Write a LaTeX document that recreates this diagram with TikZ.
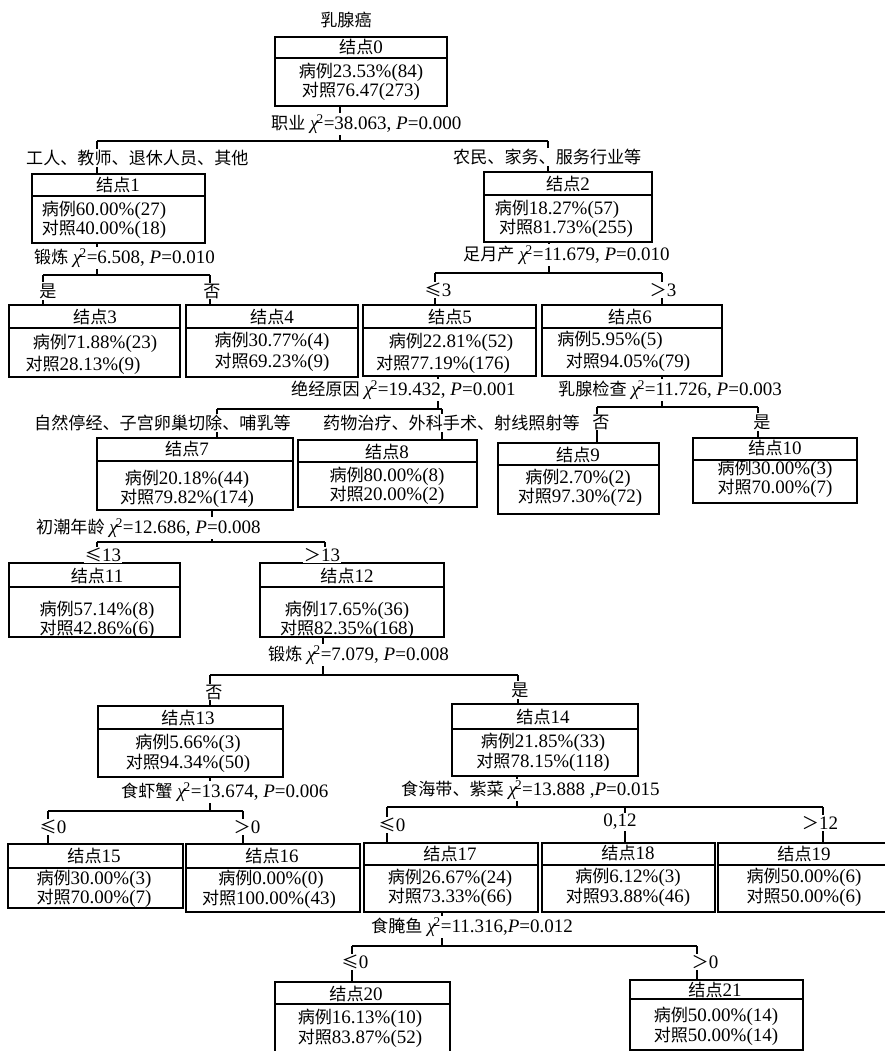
\documentclass[tikz,border=0pt]{standalone}
\usepackage{fontspec}
\setmainfont{Liberation Serif}
\newfontfamily\cjk[Scale=0.9]{Noto Sans CJK SC}
\newcommand\C[1]{{\cjk #1}}
\newcommand\chisq{\textit{χ}\kern-0.12em\textsuperscript{2}}
\tikzset{
  box/.style={draw, line width=1.8pt, inner sep=0pt, outer sep=0pt},
  conn/.style={line width=1.6pt},
  txt/.style={inner sep=0pt, font=\fontsize{19}{21}\selectfont},
  lbl/.style={inner sep=1pt, fill=white, font=\fontsize{19}{21}\selectfont},
}
\newcommand\tbox[6]{%
  \node[box, minimum width={(#4-#2)*1pt}, minimum height={(#5-#3)*1pt}] (#1) at ({(#2+#4)/2},{(#3+#5)/2}) {};
  \draw[line width=1.8pt] (#2,#6) -- (#4,#6);
}
\newcommand\ttext[4]{\node[txt] (#1) at (#2,#3) {#4};}
\begin{document}
\begin{tikzpicture}[x=1pt,y=-1pt]
\useasboundingbox (0,0) rectangle (885,1051);
\clip (0,0) rectangle (885,1051);
\fill[white] (0,0) rectangle (885,1051);

% ---------- boxes ----------
\tbox{n0}{275}{37}{447}{106}{58}
\ttext{n0h}{361}{47}{\C{结点}0}
\ttext{n0a}{361}{72}{\C{病例}23.53\%(84)}
\ttext{n0b}{361}{91}{\C{对照}76.47(273)}

\tbox{n1}{32}{174}{205}{243}{196}
\ttext{n1h}{118}{185}{\C{结点}1}
\ttext{n1a}{104}{210}{\C{病例}60.00\%(27)}
\ttext{n1b}{104}{229}{\C{对照}40.00\%(18)}

\tbox{n2}{484}{172}{652}{242}{195}
\ttext{n2h}{568}{184}{\C{结点}2}
\ttext{n2a}{557}{209}{\C{病例}18.27\%(57)}
\ttext{n2b}{566}{228}{\C{对照}81.73\%(255)}

\tbox{n3}{9}{305}{180}{377}{328}
\ttext{n3h}{95}{317}{\C{结点}3}
\ttext{n3a}{95}{343}{\C{病例}71.88\%(23)}
\ttext{n3b}{83}{365}{\C{对照}28.13\%(9)}

\tbox{n4}{186}{305}{358}{377}{328}
\ttext{n4h}{272}{317}{\C{结点}4}
\ttext{n4a}{272}{341}{\C{病例}30.77\%(4)}
\ttext{n4b}{272}{362}{\C{对照}69.23\%(9)}

\tbox{n5}{363}{305}{536}{376}{328}
\ttext{n5h}{450}{317}{\C{结点}5}
\ttext{n5a}{451}{342}{\C{病例}22.81\%(52)}
\ttext{n5b}{443}{364}{\C{对照}77.19\%(176)}

\tbox{n6}{542}{305}{722}{376}{328}
\ttext{n6h}{630}{317}{\C{结点}6}
\ttext{n6a}{610}{340}{\C{病例}5.95\%(5)}
\ttext{n6b}{628}{362}{\C{对照}94.05\%(79)}

\tbox{n7}{97}{438}{293}{510}{461}
\ttext{n7h}{187}{449}{\C{结点}7}
\ttext{n7a}{187}{479}{\C{病例}20.18\%(44)}
\ttext{n7b}{187}{498}{\C{对照}79.82\%(174)}

\tbox{n8}{298}{440}{477}{507}{462}
\ttext{n8h}{387}{452}{\C{结点}8}
\ttext{n8a}{387}{476}{\C{病例}80.00\%(8)}
\ttext{n8b}{387}{495}{\C{对照}20.00\%(2)}

\tbox{n9}{498}{443}{659}{514}{465}
\ttext{n9h}{578}{455}{\C{结点}9}
\ttext{n9a}{578}{478}{\C{病例}2.70\%(2)}
\ttext{n9b}{580}{497}{\C{对照}97.30\%(72)}

\tbox{n10}{693}{438}{857}{503}{460}
\ttext{n10h}{775}{448}{\C{结点}10}
\ttext{n10a}{775}{469}{\C{病例}30.00\%(3)}
\ttext{n10b}{775}{488}{\C{对照}70.00\%(7)}

\tbox{n11}{9}{563}{180}{637}{587}
\ttext{n11h}{97}{576}{\C{结点}11}
\ttext{n11a}{97}{610}{\C{病例}57.14\%(8)}
\ttext{n11b}{97}{629}{\C{对照}42.86\%(6)}

\tbox{n12}{260}{563}{444}{637}{587}
\ttext{n12h}{347}{576}{\C{结点}12}
\ttext{n12a}{347}{610}{\C{病例}17.65\%(36)}
\ttext{n12b}{347}{629}{\C{对照}82.35\%(168)}

\tbox{n13}{98}{706}{283}{777}{729}
\ttext{n13h}{188}{718}{\C{结点}13}
\ttext{n13a}{188}{743}{\C{病例}5.66\%(3)}
\ttext{n13b}{188}{763}{\C{对照}94.34\%(50)}

\tbox{n14}{452}{704}{638}{776}{729}
\ttext{n14h}{543}{717}{\C{结点}14}
\ttext{n14a}{543}{742}{\C{病例}21.85\%(33)}
\ttext{n14b}{543}{762}{\C{对照}78.15\%(118)}

\tbox{n15}{8}{844}{183}{908}{868}
\ttext{n15h}{94}{856}{\C{结点}15}
\ttext{n15a}{94}{879}{\C{病例}30.00\%(3)}
\ttext{n15b}{94}{898}{\C{对照}70.00\%(7)}

\tbox{n16}{186}{844}{360}{912}{868}
\ttext{n16h}{272}{856}{\C{结点}16}
\ttext{n16a}{271}{879}{\C{病例}0.00\%(0)}
\ttext{n16b}{269}{899}{\C{对照}100.00\%(43)}

\tbox{n17}{364}{843}{538}{912}{865}
\ttext{n17h}{450}{854}{\C{结点}17}
\ttext{n17a}{450}{878}{\C{病例}26.67\%(24)}
\ttext{n17b}{450}{897}{\C{对照}73.33\%(66)}

\tbox{n18}{542}{843}{715}{912}{865}
\ttext{n18h}{628}{853}{\C{结点}18}
\ttext{n18a}{628}{877}{\C{病例}6.12\%(3)}
\ttext{n18b}{628}{897}{\C{对照}93.88\%(46)}

\tbox{n19}{718}{843}{891}{912}{865}
\ttext{n19h}{804}{854}{\C{结点}19}
\ttext{n19a}{804}{877}{\C{病例}50.00\%(6)}
\ttext{n19b}{804}{897}{\C{对照}50.00\%(6)}

\tbox{n20}{275}{982}{450}{1056}{1004}
\ttext{n20h}{356}{994}{\C{结点}20}
\ttext{n20a}{360}{1018}{\C{病例}16.13\%(10)}
\ttext{n20b}{360}{1038}{\C{对照}83.87\%(52)}

\tbox{n21}{630}{980}{803}{1050}{999}
\ttext{n21h}{715}{990}{\C{结点}21}
\ttext{n21a}{716}{1016}{\C{病例}50.00\%(14)}
\ttext{n21b}{716}{1036}{\C{对照}50.00\%(14)}

% ---------- split coordinates ----------
\coordinate (s0) at (340,141);  \coordinate (s0a) at (97,141);  \coordinate (s0b) at (548,141);
\coordinate (s1) at (97,275);   \coordinate (s1a) at (43,275);  \coordinate (s1b) at (210,275);
\coordinate (s2) at (549,273);  \coordinate (s2a) at (435,273); \coordinate (s2b) at (662,273);
\coordinate (s5) at (438,409);  \coordinate (s5a) at (217,409); \coordinate (s5b) at (442,409);
\coordinate (s6) at (662,407);  \coordinate (s6a) at (597,407); \coordinate (s6b) at (758,407);
\coordinate (s7) at (212,542);  \coordinate (s7a) at (97,542);  \coordinate (s7b) at (325,542);
\coordinate (s12) at (323,675); \coordinate (s12a) at (210,675); \coordinate (s12b) at (518,675);
\coordinate (s13) at (210,811); \coordinate (s13a) at (48,811);  \coordinate (s13b) at (243,811);
\coordinate (s14) at (517,807); \coordinate (s14a) at (387,807); \coordinate (s14b) at (625,807); \coordinate (s14c) at (823,807);
\coordinate (s17) at (442,946); \coordinate (s17a) at (352,946); \coordinate (s17b) at (697,946);

% ---------- connectors ----------
\draw[conn] (n0.south -| s0) -- (s0);  \draw[conn] (s0a) -- (s0b);
\draw[conn] (s0a) -- (s0a |- n1.north); \draw[conn] (s0b) -- (s0b |- n2.north);

\draw[conn] (n1.south -| s1) -- (s1);  \draw[conn] (s1a) -- (s1b);
\draw[conn] (s1a) -- (s1a |- n3.north); \draw[conn] (s1b) -- (s1b |- n4.north);

\draw[conn] (n2.south -| s2) -- (s2);  \draw[conn] (s2a) -- (s2b);
\draw[conn] (s2a) -- (s2a |- n5.north); \draw[conn] (s2b) -- (s2b |- n6.north);

\draw[conn] (n5.south -| s5) -- (s5);  \draw[conn] (s5a) -- (s5b);
\draw[conn] (s5a) -- (s5a |- n7.north); \draw[conn] (s5b) -- (s5b |- n8.north);

\draw[conn] (n6.south -| s6) -- (s6);  \draw[conn] (s6a) -- (s6b);
\draw[conn] (s6a) -- (s6a |- n9.north); \draw[conn] (s6b) -- (s6b |- n10.north);

\draw[conn] (n7.south -| s7) -- (s7);  \draw[conn] (s7a) -- (s7b);
\draw[conn] (s7a) -- (s7a |- n11.north); \draw[conn] (s7b) -- (s7b |- n12.north);

\draw[conn] (n12.south -| s12) -- (s12);  \draw[conn] (s12a) -- (s12b);
\draw[conn] (s12a) -- (s12a |- n13.north); \draw[conn] (s12b) -- (s12b |- n14.north);

\draw[conn] (n13.south -| s13) -- (s13);  \draw[conn] (s13a) -- (s13b);
\draw[conn] (s13a) -- (s13a |- n15.north); \draw[conn] (s13b) -- (s13b |- n16.north);

\draw[conn] (n14.south -| s14) -- (s14);  \draw[conn] (s14a) -- (s14c);
\draw[conn] (s14a) -- (s14a |- n17.north); \draw[conn] (s14b) -- (s14b |- n18.north);
\draw[conn] (s14c) -- (s14c |- n19.north);

\draw[conn] (n17.south -| s17) -- (s17);  \draw[conn] (s17a) -- (s17b);
\draw[conn] (s17a) -- (s17a |- n20.north); \draw[conn] (s17b) -- (s17b |- n21.north);

% ---------- labels ----------
\node[txt] (title) at (346,20) {\C{乳腺癌}};

\node[lbl, anchor=west] (l0) at (270,124) {\C{职业} \chisq=38.063, \textit{P}=0.000};
\node[lbl, anchor=west] (b0a) at (25,158) {\C{工人、教师、退休人员、其他}};
\node[lbl, anchor=west] (b0b) at (452,157) {\C{农民、家务、服务行业等}};

\node[lbl, anchor=west] (l1) at (33,258) {\C{锻炼} \chisq=6.508, \textit{P}=0.010};
\node[lbl] (b1a) at (48,291) {\C{是}};
\node[lbl] (b1b) at (212,291) {\C{否}};

\node[lbl, anchor=west] (l2) at (462,255) {\C{足月产} \chisq=11.679, \textit{P}=0.010};
\node[lbl] (b2a) at (438,290) {\C{≤}3};
\node[lbl] (b2b) at (663,290) {\C{＞}3};

\node[lbl, anchor=west] (l5) at (290,390) {\C{绝经原因} \chisq=19.432, \textit{P}=0.001};
\node[lbl, anchor=west] (b5a) at (33,423) {\C{自然停经、子宫卵巢切除、哺乳等}};
\node[lbl, anchor=west] (b5b) at (322,423) {\C{药物治疗、外科手术、射线照射等}};

\node[lbl, anchor=west] (l6) at (557,390) {\C{乳腺检查} \chisq=11.726, \textit{P}=0.003};
\node[lbl] (b6a) at (601,422) {\C{否}};
\node[lbl] (b6b) at (762,422) {\C{是}};

\node[lbl, anchor=west] (l7) at (35,528) {\C{初潮年龄} \chisq=12.686, \textit{P}=0.008};
\node[lbl] (b7a) at (103,555) {\C{≤}13};
\node[lbl] (b7b) at (322,555) {\C{＞}13};

\node[lbl, anchor=west] (l12) at (267,655) {\C{锻炼} \chisq=7.079, \textit{P}=0.008};
\node[lbl] (b12a) at (214,692) {\C{否}};
\node[lbl] (b12b) at (520,690) {\C{是}};

\node[lbl, anchor=west] (l13) at (120,792) {\C{食虾蟹} \chisq=13.674, \textit{P}=0.006};
\node[lbl] (b13a) at (53,827) {\C{≤}0};
\node[lbl] (b13b) at (247,827) {\C{＞}0};

\node[lbl, anchor=west] (l14) at (400,790) {\C{食海带、紫菜} \chisq=13.888 ,\textit{P}=0.015};
\node[lbl] (b14a) at (392,825) {\C{≤}0};
\node[lbl] (b14b) at (620,822) {0,12};
\node[lbl] (b14c) at (820,823) {\C{＞}12};

\node[lbl, anchor=west] (l17) at (370,927) {\C{食腌鱼} \chisq=11.316,\textit{P}=0.012};
\node[lbl] (b17a) at (355,962) {\C{≤}0};
\node[lbl] (b17b) at (705,962) {\C{＞}0};
\end{tikzpicture}
\end{document}
